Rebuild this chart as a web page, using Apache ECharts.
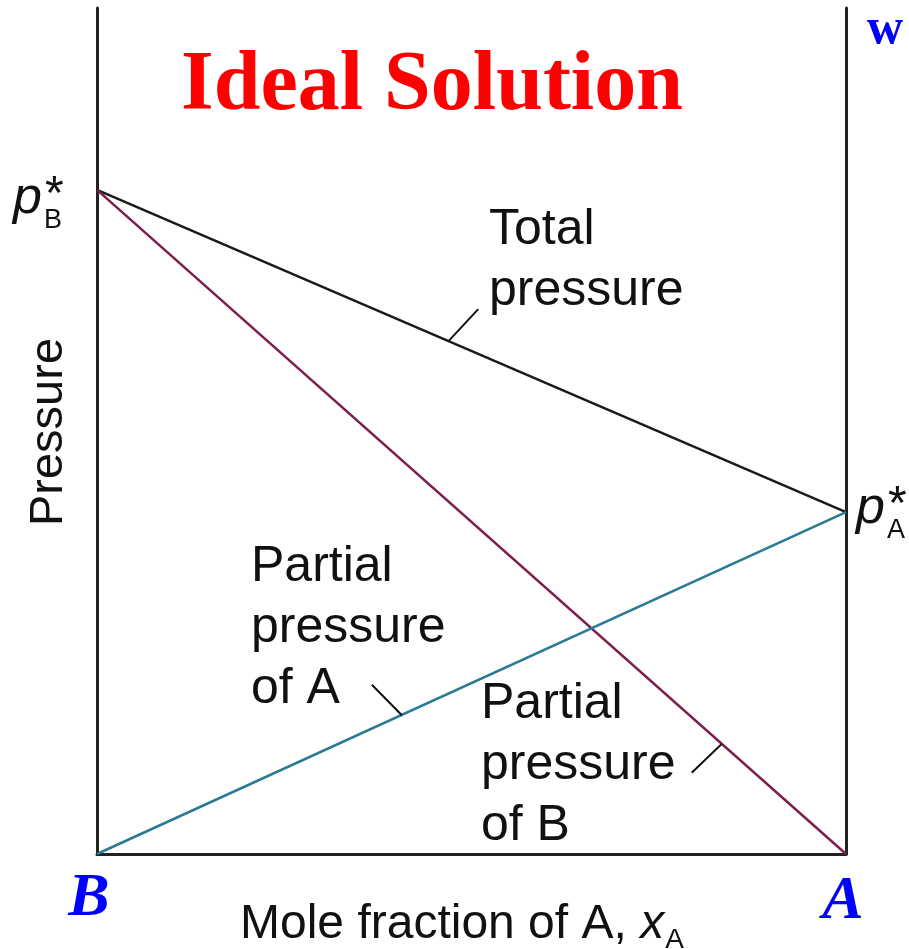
<!DOCTYPE html>
<html>
<head>
<meta charset="utf-8">
<script src="https://cdn.jsdelivr.net/npm/echarts@6/dist/echarts.min.js"></script>
<style>
  html, body { margin: 0; padding: 0; background: #fff; }
  #chart { width: 909px; height: 949px; }
</style>
</head>
<body>
<div id="chart"></div>
<script>
// mole fraction of A at the two ends (B pure -> A pure)
var xA = [0, 1];
// pressures, arbitrary units (axis 0..100)
var partialA = [0, 40.4];
var partialB = [78.5, 0];
var totalP = [78.5, 40.4];

// little leader ticks from the labels to the lines, in data units
var leaderTotal = [[0.469, 60.6], [0.509, 64.4]];
var leaderA = [[0.407, 16.4], [0.367, 20.0]];
var leaderB = [[0.834, 13.0], [0.794, 9.6]];

var SANS = '"Liberation Sans", Arial, sans-serif';
var SERIF = '"Liberation Serif", "Times New Roman", serif';

var ctx = document.createElement('canvas').getContext('2d');
function textW(txt, font){
    ctx.font = font;
    return ctx.measureText(txt).width;
}

function pairs(ys){
    return xA.map(function(x, i){ return [x, ys[i]]; });
}

function leader(pts){
    return {
        silent: true,
        symbol: 'none',
        label: {show: false},
        lineStyle: {color: '#111', width: 2, type: 'solid'},
        data: [[{coord: pts[0]}, {coord: pts[1]}]]
    };
}

function txt(x, y, s, size, opts){
    opts = opts || {};
    return {
        type: 'text', x: x, y: y, rotation: opts.rotation || 0,
        style: {
            text: s,
            fill: opts.color || '#111',
            font: (opts.style || 'normal') + ' ' + (opts.weight || 'normal') + ' ' + size + 'px ' + (opts.family || SANS),
            textAlign: opts.align || 'left',
            textVerticalAlign: opts.valign || 'middle',
            lineHeight: opts.lineHeight
        }
    };
}

var labelFont = 50;
var graphics = [
    txt(432, 87, 'Ideal Solution', 84, {color: '#ff0000', weight: 'bold', family: SERIF, align: 'center'}),
    txt(867, 30, 'w', 50, {color: '#0000ff', weight: 'bold', family: SERIF}),
    txt(89, 899, 'B', 62, {color: '#0000ff', weight: 'bold', style: 'italic', family: SERIF, align: 'center'}),
    txt(843, 902, 'A', 62, {color: '#0000ff', weight: 'bold', style: 'italic', family: SERIF, align: 'center'}),
    txt(49, 432, 'Pressure', 47, {align: 'center', rotation: Math.PI / 2}),
    txt(489, 200, 'Total\npressure', labelFont, {valign: 'top', lineHeight: 61}),
    txt(251, 537, 'Partial\npressure\nof A', labelFont, {valign: 'top', lineHeight: 61}),
    txt(481, 674, 'Partial\npressure\nof B', labelFont, {valign: 'top', lineHeight: 61})
];

// p*_B and p*_A
function starLabel(x, base, sub){
    var pw = textW('p', 'italic normal 52px ' + SANS);
    graphics.push(txt(x, base - 18, 'p', 52, {style: 'italic'}));
    graphics.push(txt(x + pw + 2, base + 13 - 9, sub, 27));
    graphics.push(txt(x + pw + 3, base - 21, '*', 48));
}
starLabel(13, 217, 'B');
starLabel(856, 527, 'A');

// x axis title with italic x and subscript A
(function(){
    var mainFont = 'normal normal 48px ' + SANS;
    var main = 'Mole fraction of A, ';
    var x0 = 240, base = 942;
    var w1 = textW(main, mainFont);
    var w2 = textW('x', 'italic normal 48px ' + SANS);
    graphics.push(txt(x0, base - 17, main, 48));
    graphics.push(txt(x0 + w1, base - 17, 'x', 48, {style: 'italic'}));
    graphics.push(txt(x0 + w1 + w2 + 1, base + 8 - 10, 'A', 28));
})();

var chart = echarts.init(document.getElementById('chart'));
chart.setOption({
    animation: false,
    backgroundColor: '#fff',
    grid: {left: 97, right: 63, top: 8, bottom: 95},
    xAxis: {
        type: 'value', min: 0, max: 1,
        axisLine: {show: true, onZero: false, lineStyle: {color: '#222', width: 3}},
        axisTick: {show: false}, axisLabel: {show: false}, splitLine: {show: false}
    },
    yAxis: [{
        type: 'value', min: 0, max: 100, position: 'left',
        axisLine: {show: true, lineStyle: {color: '#222', width: 3}},
        axisTick: {show: false}, axisLabel: {show: false}, splitLine: {show: false}
    }, {
        type: 'value', min: 0, max: 100, position: 'right',
        axisLine: {show: true, lineStyle: {color: '#222', width: 3}},
        axisTick: {show: false}, axisLabel: {show: false}, splitLine: {show: false}
    }],
    series: [{
        name: 'Total pressure', type: 'line', data: pairs(totalP),
        symbol: 'none', lineStyle: {color: '#1a1a1a', width: 2.5},
        markLine: leader(leaderTotal)
    }, {
        name: 'Partial pressure of B', type: 'line', data: pairs(partialB),
        symbol: 'none', lineStyle: {color: '#7d1f4e', width: 2.5},
        markLine: leader(leaderB)
    }, {
        name: 'Partial pressure of A', type: 'line', data: pairs(partialA),
        symbol: 'none', lineStyle: {color: '#2a7a94', width: 2.5},
        markLine: leader(leaderA)
    }],
    graphic: graphics
});
</script>
</body>
</html>
